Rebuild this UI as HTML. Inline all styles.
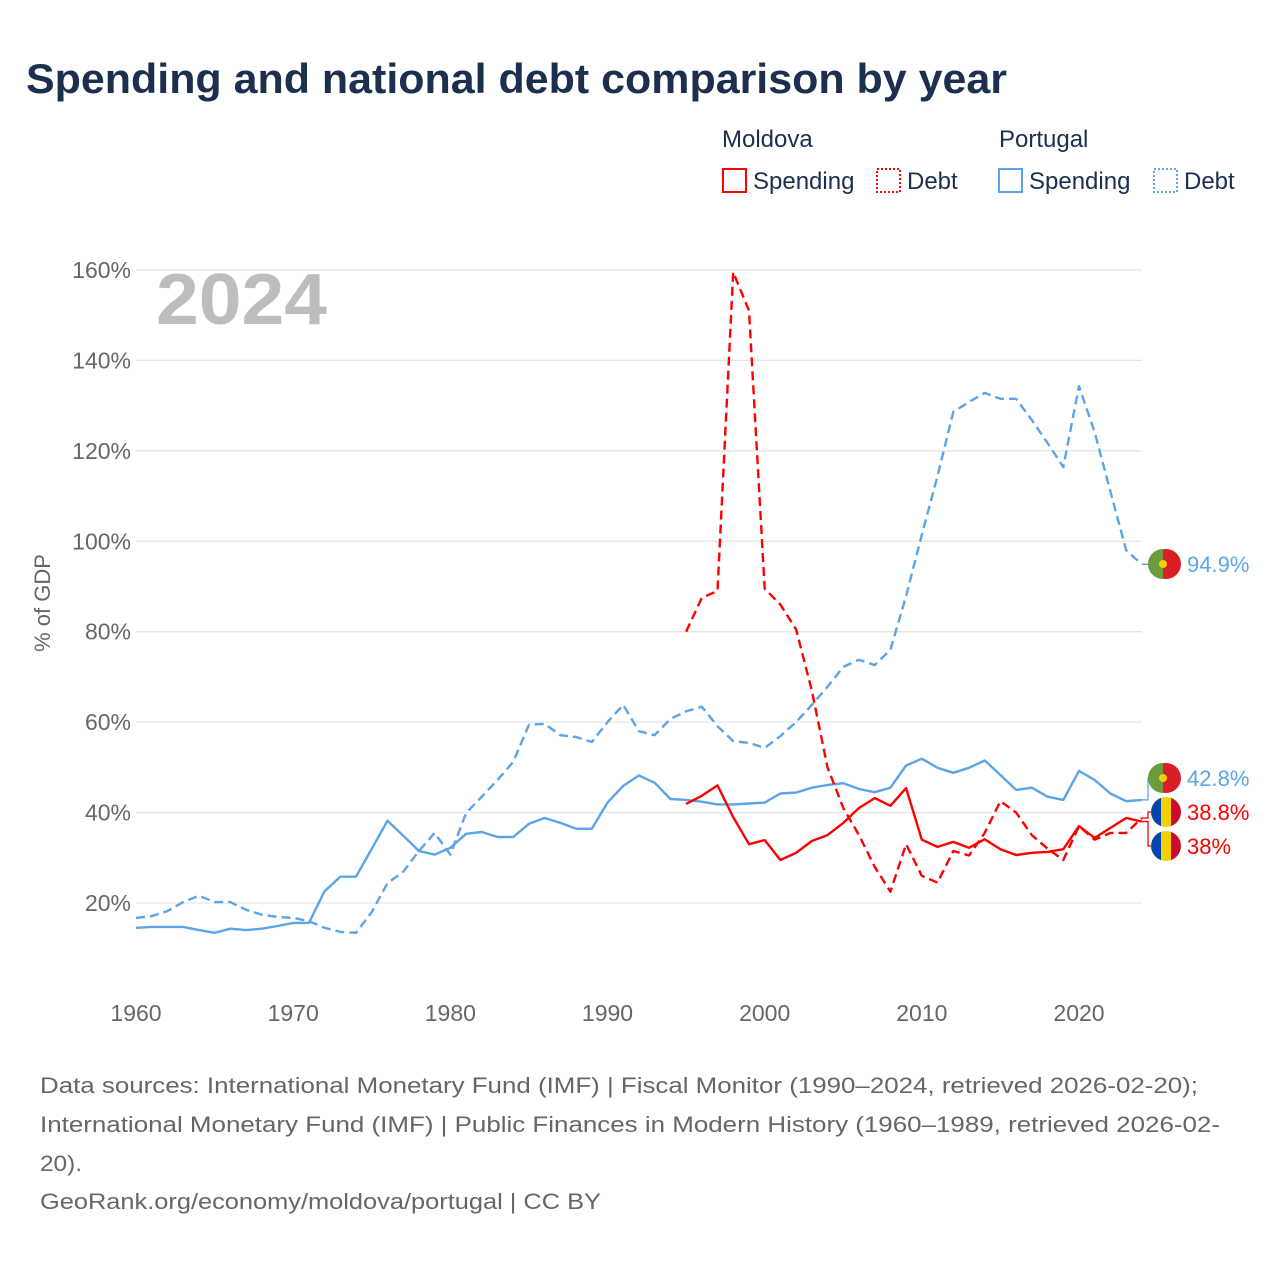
<!DOCTYPE html>
<html><head><meta charset="utf-8">
<style>
body{margin:0;background:#fff;font-family:"Liberation Sans",sans-serif;}
#wrap{position:relative;width:1280px;height:1280px;overflow:hidden;}
</style></head>
<body>
<div id="wrap">
<svg id="chart" width="1280" height="1280" xmlns="http://www.w3.org/2000/svg">
<text x="26" y="93" font-size="42" font-weight="bold" fill="#1b2f4e" textLength="981" lengthAdjust="spacingAndGlyphs">Spending and national debt comparison by year</text>
<g font-size="24" fill="#1b2f4e">
<text x="722" y="147">Moldova</text>
<text x="999" y="147">Portugal</text>
<g><rect x="723" y="169" width="23" height="23" fill="none" stroke="#f00" stroke-width="2"/><text x="753" y="189">Spending</text></g>
<g><rect x="877" y="169" width="23" height="23" fill="none" stroke="#f00" stroke-width="2" stroke-dasharray="2,2"/><text x="907" y="189">Debt</text></g>
<g><rect x="999" y="169" width="23" height="23" fill="none" stroke="#5ba4e8" stroke-width="2"/><text x="1029" y="189">Spending</text></g>
<g><rect x="1154" y="169" width="23" height="23" fill="none" stroke="#5ba4e8" stroke-width="2" stroke-dasharray="2,2"/><text x="1184" y="189">Debt</text></g>
</g>
<text x="156" y="324" font-size="72" font-weight="bold" fill="#bdbdbd" textLength="171" lengthAdjust="spacingAndGlyphs">2024</text>
<text transform="translate(50,603) rotate(-90)" text-anchor="middle" font-size="22" fill="#666">% of GDP</text>
<g id="grid"></g><g id="series"></g><g id="ends"></g>
<g font-size="22" fill="#666">
<text x="40" y="1093" textLength="1158" lengthAdjust="spacingAndGlyphs">Data sources: International Monetary Fund (IMF) | Fiscal Monitor (1990–2024, retrieved 2026-02-20);</text>
<text x="40" y="1132" textLength="1180" lengthAdjust="spacingAndGlyphs">International Monetary Fund (IMF) | Public Finances in Modern History (1960–1989, retrieved 2026-02-</text>
<text x="40" y="1171" textLength="42" lengthAdjust="spacingAndGlyphs">20).</text>
<text x="40" y="1209" textLength="561" lengthAdjust="spacingAndGlyphs">GeoRank.org/economy/moldova/portugal | CC BY</text>
</g>
</svg>
</div>
<script>
const ptYears=[];for(let y=1960;y<=2024;y++)ptYears.push(y);
const mdYears=[];for(let y=1995;y<=2024;y++)mdYears.push(y);
const ptSpending=[14.5,14.7,14.7,14.7,14.0,13.4,14.3,14.0,14.3,14.9,15.6,15.6,22.6,25.8,25.8,32,38.2,34.9,31.5,30.7,32.2,35.3,35.7,34.6,34.6,37.5,38.8,37.7,36.4,36.4,42.2,45.9,48.2,46.6,43,42.8,42.4,41.8,41.8,42,42.2,44.2,44.4,45.5,46.1,46.5,45.2,44.5,45.5,50.4,51.9,49.9,48.8,49.9,51.5,48.3,45,45.5,43.5,42.8,49.2,47.2,44.2,42.5,42.8];
const ptDebt=[16.7,17.1,18.2,20.2,21.6,20.2,20.2,18.5,17.4,16.9,16.7,16,14.5,13.6,13.4,18,24.4,26.9,31.5,35.5,30.7,39.9,43.5,47.2,51.2,59.4,59.6,57.1,56.7,55.6,60,63.8,58,57.1,60.7,62.4,63.4,59.1,55.8,55.4,54.3,56.9,60,63.8,67.8,72.2,73.8,72.6,76,87.9,101.4,114.4,128.6,130.8,132.8,131.5,131.5,126.8,121.7,116.4,134.3,124.1,111,98,94.9];
const mdSpending=[41.9,43.7,46,39,33,33.9,29.5,31.1,33.7,35,37.7,41,43.2,41.5,45.4,34,32.4,33.5,32.2,34.1,31.9,30.6,31.1,31.3,31.9,37,34.4,36.6,38.8,38];
const mdDebt=[80,87.5,89,159.5,151,89.5,86,80.5,67,50,41,35,28,22.5,33,26,24.5,31.5,30.5,35.5,42.5,40,35,32,29.5,37,34,35.5,35.5,38.8];
const yTicks=[20,40,60,80,100,120,140,160];
const yTickLabels=["20%","40%","60%","80%","100%","120%","140%","160%"];
const xTicks=[1960,1970,1980,1990,2000,2010,2020];
const NS="http://www.w3.org/2000/svg";
const X=y=>136+(y-1960)*(943/60);
const Y=v=>993.4-v*4.5215;
function mk(t,a,p){const e=document.createElementNS(NS,t);for(const k in a)e.setAttribute(k,a[k]);p.appendChild(e);return e;}
const grid=document.getElementById('grid');
yTicks.forEach((v,i)=>{
 const l=mk('line',{x1:136,x2:1142,y1:Y(v),y2:Y(v),stroke:'#e6e6e6','stroke-width':1.3},grid);
 
 
 const t=mk('text',{x:131,y:Y(v)+8,'text-anchor':'end','font-size':23,fill:'#666'},grid);t.textContent=yTickLabels[i];
 
 
});
xTicks.forEach(v=>{
 const t=mk('text',{x:X(v),y:1021,'text-anchor':'middle','font-size':23,fill:'#666'},grid);t.textContent=v;
 
 
});
const ser=document.getElementById('series');
function line(years,vals,color,dash,name){
 const d=years.map((y,i)=>(i?'L':'M')+X(y).toFixed(1)+','+Y(vals[i]).toFixed(1)).join(' ');
 const p=mk('path',{d:d,fill:'none',stroke:color,'stroke-width':2.4,'stroke-linejoin':'round'},ser);
 if(dash)p.setAttribute('stroke-dasharray','9,5');
 
 
}
line(ptYears,ptDebt,'#5ba4e8',true,'portugal-debt-line');
line(ptYears,ptSpending,'#5ba4e8',false,'portugal-spending-line');
line(mdYears,mdDebt,'#f00',true,'moldova-debt-line');
line(mdYears,mdSpending,'#f00',false,'moldova-spending-line');
const ends=document.getElementById('ends');
function flag(cx,cy,pt,g){
 if(pt){mk('circle',{cx:cx,cy:cy,r:15,fill:'#da1e28'},g);mk('path',{d:`M${cx-3},${cy-15} A15,15 0 0 0 ${cx-3},${cy+15} Z`,fill:'#6a9b3c'},g);mk('circle',{cx:cx-3,cy:cy,r:4,fill:'#f5d000'},g);}
 else{mk('circle',{cx:cx,cy:cy,r:15,fill:'#f5d000'},g);mk('path',{d:`M${cx-5},${cy-14.1} A15,15 0 0 0 ${cx-5},${cy+14.1} Z`,fill:'#0046ae'},g);mk('path',{d:`M${cx+5},${cy-14.1} A15,15 0 0 1 ${cx+5},${cy+14.1} Z`,fill:'#cc092f'},g);}
}
const lastPt=ptYears.length-1,lastMd=mdYears.length-1;
const endItems=[
 {v:ptDebt[lastPt],ly:564,pt:true,c:'#5ba4e8',name:'portugal-debt-end-label'},
 {v:ptSpending[lastPt],ly:778,pt:true,c:'#5ba4e8',name:'portugal-spending-end-label'},
 {v:mdDebt[lastMd],ly:812,pt:false,c:'#f00',name:'moldova-debt-end-label'},
 {v:mdSpending[lastMd],ly:846,pt:false,c:'#f00',name:'moldova-spending-end-label'}];
endItems.forEach(it=>{
 const g=mk('g',{},ends);
 
 
 const y0=Y(it.v);
 mk('path',{d:`M1142,${y0} H1148 V${it.ly} H1152`,fill:'none',stroke:it.c,'stroke-width':1.3},g);
 flag(1166,it.ly,it.pt,g);
 const t=mk('text',{x:1187,y:it.ly+8,'font-size':22,fill:it.c},g);
 t.textContent=(Math.round(it.v*10)/10)+'%';
});
</script>
</body></html>
